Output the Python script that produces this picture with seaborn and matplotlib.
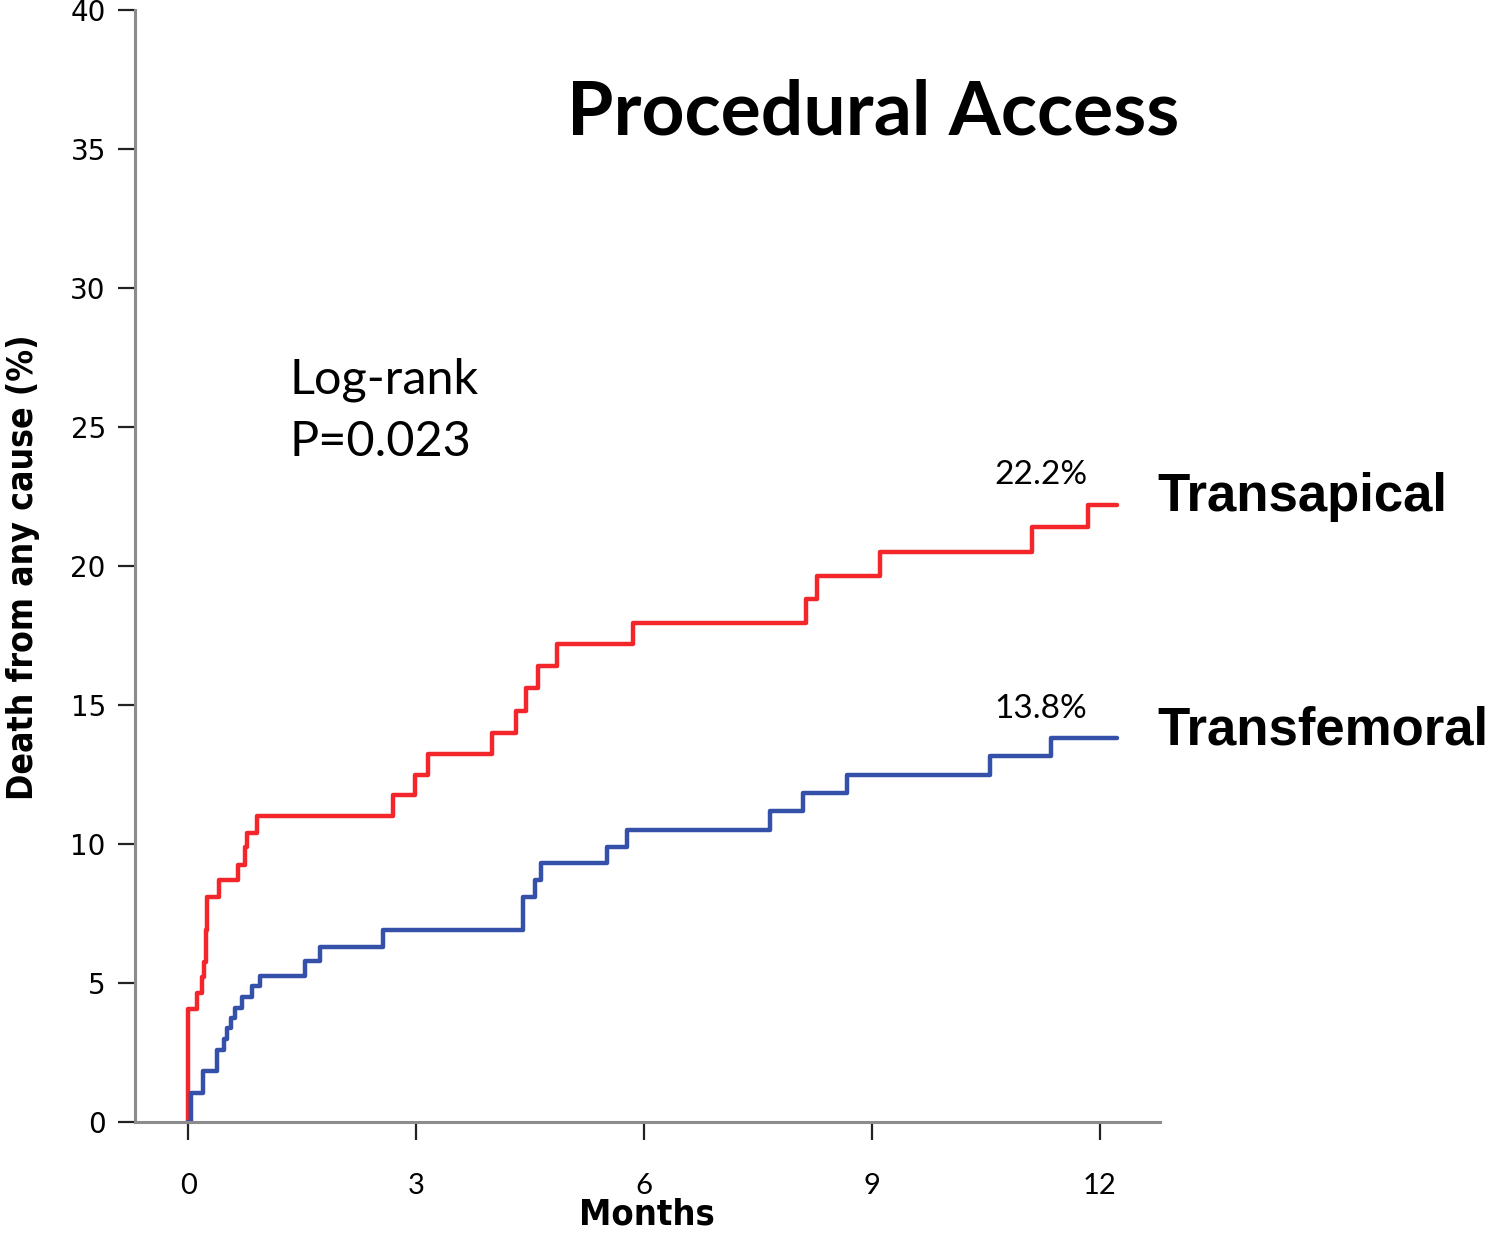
import numpy as np
import pandas as pd
import matplotlib
matplotlib.use("Agg")
import matplotlib.pyplot as plt
import seaborn as sns

# Cumulative all-cause mortality (%) by procedural access, months of follow-up
apical_months = [0.0, 0.0, 0.11, 0.18, 0.21, 0.23, 0.25, 0.41, 0.66, 0.75, 0.78, 0.91,
                 2.70, 2.99, 3.16, 4.00, 4.32, 4.44, 4.61, 4.86, 5.86, 8.13, 8.27,
                 9.10, 11.10, 11.84, 12.22]
apical_pct = [0.0, 4.05, 4.65, 5.2, 5.75, 6.9, 8.1, 8.7, 9.25, 9.9, 10.4, 11.0,
              11.75, 12.5, 13.25, 14.0, 14.8, 15.6, 16.4, 17.2, 17.95, 18.8, 19.65,
              20.5, 21.4, 22.2, 22.2]

femoral_months = [0.0, 0.04, 0.20, 0.38, 0.47, 0.51, 0.57, 0.62, 0.71, 0.84, 0.95,
                  1.54, 1.74, 2.57, 4.41, 4.57, 4.64, 5.51, 5.77, 7.66, 8.09, 8.67,
                  10.55, 11.36, 12.22]
femoral_pct = [0.0, 1.05, 1.85, 2.6, 3.0, 3.4, 3.75, 4.1, 4.5, 4.9, 5.25,
               5.8, 6.3, 6.9, 8.1, 8.7, 9.3, 9.9, 10.5, 11.2, 11.85, 12.5,
               13.15, 13.8, 13.8]

groups = ["Transapical", "Transfemoral"]
final_labels = ["22.2%", "13.8%"]
line_colors = ["#f2262b", "#3550a8"]
x_ticks = [0, 3, 6, 9, 12]
y_ticks = [0, 5, 10, 15, 20, 25, 30, 35, 40]

df = pd.concat([
    pd.DataFrame({"Months": apical_months, "Death": apical_pct, "Access": groups[0]}),
    pd.DataFrame({"Months": femoral_months, "Death": femoral_pct, "Access": groups[1]}),
], ignore_index=True)

sns.set_theme(style="white")
plt.rcParams["font.family"] = ["DejaVu Sans"]
plt.rcParams["text.color"] = "black"
plt.rcParams["axes.labelcolor"] = "black"
plt.rcParams["xtick.color"] = "black"
plt.rcParams["ytick.color"] = "black"

fig = plt.figure(figsize=(15, 12.33), dpi=100)
ax = fig.add_axes([0.09, 0.09, 0.6833, 0.9019])

sns.lineplot(data=df, x="Months", y="Death", hue="Access",
             palette=dict(zip(groups, line_colors)), estimator=None,
             drawstyle="steps-post", linewidth=3.2, legend=False, ax=ax)

ax.set_xlim(-0.7, 12.79)
ax.set_ylim(0, 40)
ax.set_xticks(x_ticks)
ax.set_yticks(y_ticks)

for side in ["top", "right"]:
    ax.spines[side].set_visible(False)
for side in ["left", "bottom"]:
    ax.spines[side].set_color("#8c8c8c")
    ax.spines[side].set_linewidth(2.2)

ax.tick_params(axis="y", direction="out", length=12, width=1.6, color="#222222",
               pad=9, labelsize=20, left=True)
ax.tick_params(axis="x", direction="out", length=13, width=1.6, color="#222222",
               pad=24, labelsize=21, bottom=True)
for lab in ax.get_xticklabels():
    lab.set_family(["Lato", "DejaVu Sans"])

ax.set_xlabel("Months", fontsize=26, fontweight="bold", fontstretch="condensed",
              family=["DejaVu Sans"], va="center")
ax.xaxis.set_label_coords(0.4995, -0.0835)
ax.set_ylabel("Death from any cause (%)", fontsize=25.5, fontweight="bold",
              fontstretch="condensed", family=["DejaVu Sans"], va="center")
ax.yaxis.set_label_coords(-0.109, 0.499)

# Final cumulative values and group names at the end of each curve
finals = [apical_pct[-1], femoral_pct[-1]]
ends = [apical_months[-1], femoral_months[-1]]
for name, lab, end_x, end_y in zip(groups, final_labels, ends, finals):
    ax.text(end_x - 1.0, end_y + 0.75, lab, ha="center", va="baseline",
            fontsize=24, family=["Lato", "DejaVu Sans"], clip_on=False)
    ax.text(12.75, end_y + 0.3, name, ha="left", va="center", fontsize=38,
            fontweight="bold", family=["Liberation Sans", "DejaVu Sans"], clip_on=False)

ax.text(1.33, 26.7, "Log-rank", ha="left", va="center", fontsize=35,
        family=["Lato", "DejaVu Sans"])
ax.text(1.33, 24.45, "P=0.023", ha="left", va="center", fontsize=35,
        family=["Lato", "DejaVu Sans"])

fig.text(0.582, 0.908, "Procedural Access", ha="center", va="center",
         fontsize=54, fontweight="bold", family=["Lato", "DejaVu Sans"])

fig.savefig("out.png", dpi=100, facecolor="white")
